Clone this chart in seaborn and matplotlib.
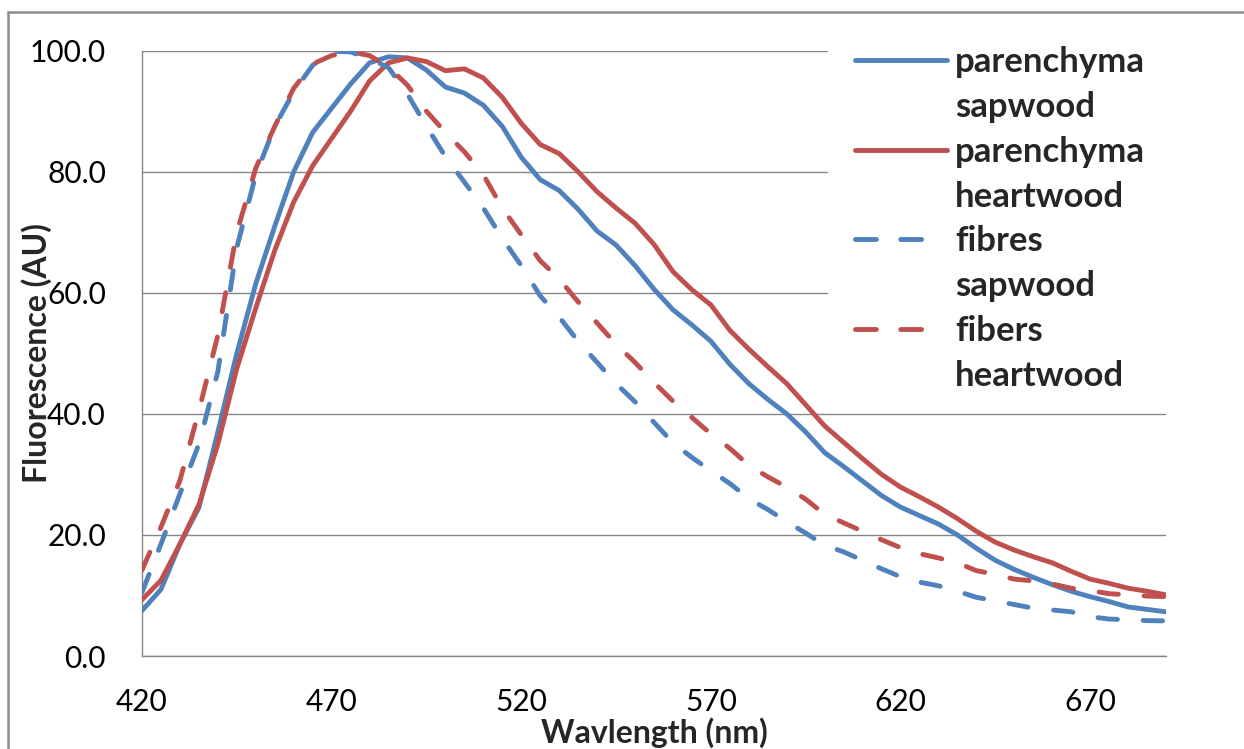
import pandas as pd
import matplotlib.pyplot as plt
import seaborn as sns
from matplotlib.lines import Line2D
from matplotlib.patches import Rectangle

# wavelength (nm), one reading every 5 nm
wavelength = [420, 425, 430, 435, 440, 445, 450, 455, 460, 465,
              470, 475, 480, 485, 490, 495, 500, 505, 510, 515,
              520, 525, 530, 535, 540, 545, 550, 555, 560, 565,
              570, 575, 580, 585, 590, 595, 600, 605, 610, 615,
              620, 625, 630, 635, 640, 645, 650, 655, 660, 665,
              670, 675, 680, 685, 690]

parenchyma_sapwood = [7.5, 11.0, 18.5, 24.5, 37.0, 50.0, 61.5, 71.0, 80.0, 86.5,
                      90.5, 94.5, 98.0, 99.0, 98.8, 96.8, 94.0, 93.0, 91.0, 87.5,
                      82.4, 78.7, 76.9, 73.8, 70.2, 67.9, 64.5, 60.6, 57.2, 54.7,
                      52.0, 48.2, 45.0, 42.4, 40.0, 37.0, 33.6, 31.3, 28.9, 26.5,
                      24.6, 23.2, 21.8, 20.0, 17.8, 15.8, 14.3, 13.0, 11.8, 10.7,
                      9.8, 9.0, 8.1, 7.7, 7.3]

parenchyma_heartwood = [9.3, 12.5, 18.5, 25.0, 35.0, 47.5, 57.5, 67.0, 75.0, 81.0,
                        85.5, 90.0, 95.0, 98.0, 98.8, 98.2, 96.7, 97.0, 95.5, 92.3,
                        88.0, 84.5, 83.0, 80.0, 76.7, 74.0, 71.5, 68.0, 63.5, 60.5,
                        58.0, 53.8, 50.7, 47.8, 45.0, 41.5, 38.0, 35.3, 32.6, 30.0,
                        27.9, 26.3, 24.6, 22.7, 20.6, 18.8, 17.5, 16.4, 15.4, 14.0,
                        12.7, 12.0, 11.2, 10.7, 10.1]

fibres_sapwood = [10.5, 18.5, 26.8, 35.0, 47.0, 67.5, 79.5, 87.5, 93.2, 97.6,
                  99.9, 99.8, 98.7, 97.2, 92.8, 87.5, 82.5, 78.3, 74.0, 69.0,
                  64.5, 59.5, 56.0, 52.0, 48.5, 45.0, 42.0, 38.6, 35.2, 32.8,
                  30.6, 28.5, 26.0, 24.2, 22.2, 20.3, 18.3, 17.2, 15.8, 14.4,
                  13.1, 12.2, 11.6, 10.7, 9.7, 9.1, 8.5, 7.9, 7.6, 7.3,
                  6.5, 6.1, 6.0, 5.85, 5.8]

fibers_heartwood = [14.2, 21.3, 29.0, 40.5, 53.0, 70.0, 80.6, 87.5, 93.8, 97.8,
                    99.2, 99.8, 99.2, 97.3, 94.3, 90.0, 86.5, 83.3, 79.5, 74.0,
                    69.6, 65.3, 62.3, 58.5, 55.0, 51.5, 48.5, 45.2, 42.1, 39.4,
                    36.7, 34.3, 31.5, 29.6, 27.9, 25.9, 23.4, 22.0, 20.6, 19.2,
                    17.9, 16.9, 16.2, 15.4, 14.1, 13.5, 12.7, 12.4, 11.9, 11.2,
                    10.8, 10.3, 10.1, 9.9, 9.8]

series_names = ['parenchyma sapwood', 'parenchyma heartwood', 'fibres sapwood', 'fibers heartwood']
series_values = [parenchyma_sapwood, parenchyma_heartwood, fibres_sapwood, fibers_heartwood]

x_ticks = [420, 470, 520, 570, 620, 670]
y_ticks = [0, 20, 40, 60, 80, 100]

BLUE = '#4F81BD'
RED = '#C0504D'
GRAY = '#868686'

# long table for seaborn
frames = []
for name, vals in zip(series_names, series_values):
    frames.append(pd.DataFrame({'wavelength': wavelength, 'fluorescence': vals, 'series': name}))
df = pd.concat(frames, ignore_index=True)

sns.set_style('white')
plt.rcParams['font.family'] = ['Lato', 'DejaVu Sans']

W, H = 1244, 749
fig = plt.figure(figsize=(W / 100, H / 100), dpi=100)
ax = fig.add_axes([142 / W, (H - 656) / H, 1024 / W, 605.3 / H])

palette = {'parenchyma sapwood': BLUE, 'parenchyma heartwood': RED,
           'fibres sapwood': BLUE, 'fibers heartwood': RED}
dashes = {'parenchyma sapwood': '', 'parenchyma heartwood': '',
          'fibres sapwood': (4.0, 5.3), 'fibers heartwood': (4.0, 5.3)}

sns.lineplot(data=df, x='wavelength', y='fluorescence', hue='series', style='series',
             hue_order=series_names, style_order=series_names,
             palette=palette, dashes=dashes, linewidth=3.5, estimator=None,
             ax=ax, zorder=3)

for ln in ax.lines:
    ln.set_solid_capstyle('round')
    ln.set_dash_capstyle('round')
    ln.set_solid_joinstyle('round')

# grab seaborn's handles, then build the Excel-like two-line legend
old = ax.get_legend()
handle_map = {t.get_text(): h for t, h in zip(old.texts, old.legend_handles)}
old.remove()
for name, h in handle_map.items():
    h.set_linewidth(3.5)
    h.set_dash_capstyle('round')
    h.set_solid_capstyle('round')
    if dashes[name]:
        # two dashes only in the legend sample, like Excel
        h.set_dashes((4.3, 5.0, 4.3, 20))

blank = Line2D([], [], color='none')
leg_handles, leg_labels = [], []
for name in series_names:
    first, second = name.split(' ')
    leg_handles += [handle_map[name], blank]
    leg_labels += [first, second]

# white block behind the legend hides the upper gridlines
ax.add_patch(Rectangle(((828 - 142) / 1024, (656 - 400) / 605.3), 1, 1,
                       transform=ax.transAxes, facecolor='white', edgecolor='none', zorder=1))

ax.legend(leg_handles, leg_labels, loc='upper left',
          bbox_to_anchor=(855 / W, (H - 46) / H), bbox_transform=fig.transFigure,
          frameon=False, prop={'family': 'Lato', 'weight': 'bold', 'size': 25},
          handlelength=2.65, handletextpad=0.23, labelspacing=0.37,
          borderpad=0, borderaxespad=0)

ax.set_xlim(420, 690)
ax.set_ylim(0, 100)
ax.set_xticks(x_ticks)
ax.set_yticks(y_ticks)
ax.set_yticklabels([f'{v:.1f}' for v in y_ticks])
ax.tick_params(axis='both', length=12, width=1, color=GRAY, labelsize=21.5, labelcolor='black')
ax.tick_params(axis='y', pad=14)
ax.tick_params(axis='x', pad=11)

ax.set_axisbelow(True)
ax.grid(axis='y', color=GRAY, linewidth=1.0)
ax.grid(axis='x', visible=False)
sns.despine(ax=ax, top=True, right=True)
for side in ['left', 'bottom']:
    ax.spines[side].set_color(GRAY)
    ax.spines[side].set_linewidth(1.0)

ax.set_xlabel('Wavlength (nm)', fontsize=23, fontweight='bold')
ax.set_ylabel('Fluorescence (AU)', fontsize=23, fontweight='bold')
ax.xaxis.label.set_va('center')
ax.yaxis.label.set_va('center')
ax.xaxis.set_label_coords(0.5, -(733 - 656) / 605.3)
ax.yaxis.set_label_coords(-(142 - 37) / 1024, 0.5)

# outer chart frame (only top and left edges are inside the picture)
fig.add_artist(Rectangle((8 / W, -0.2), 1.5, (H - 12) / H + 0.2, transform=fig.transFigure,
                         fill=False, edgecolor='#8C8C8C', linewidth=1.8))

fig.savefig('out.png', dpi=100)
